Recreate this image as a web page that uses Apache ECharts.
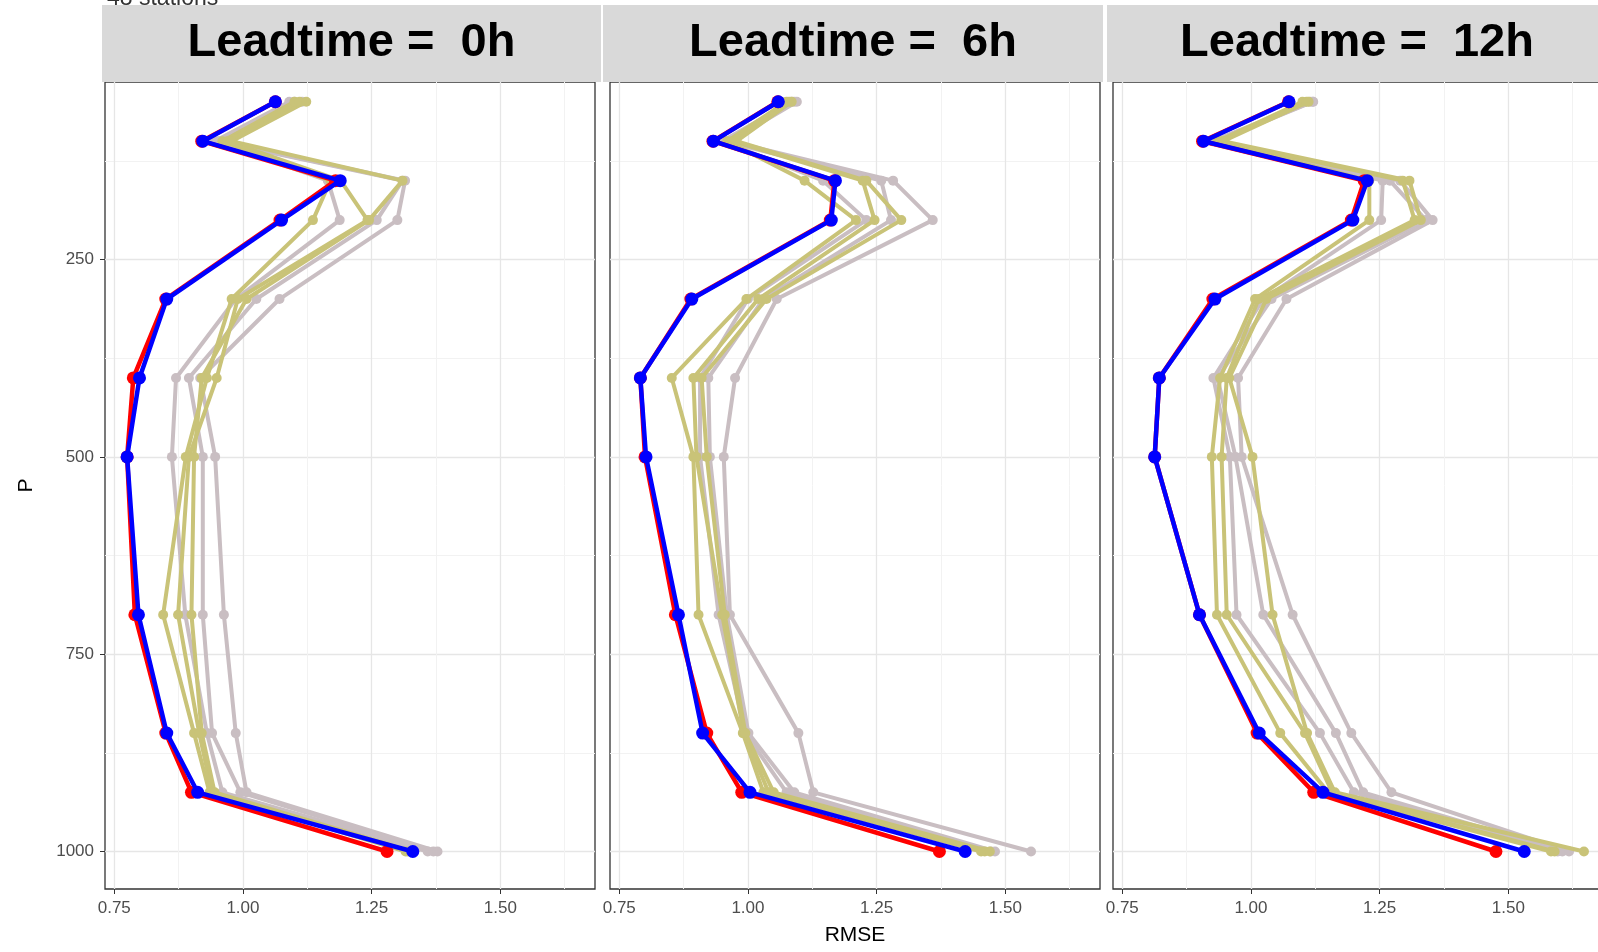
<!DOCTYPE html>
<html>
<head>
<meta charset="utf-8">
<title>RMSE profiles</title>
<script src="https://cdn.jsdelivr.net/npm/echarts@6/dist/echarts.min.js"></script>
<style>
  html, body { margin: 0; padding: 0; background: #fff; }
  #chart { width: 1598px; height: 952px; }
</style>
</head>
<body>
<div id="chart"></div>
<script>
// pressure levels (hPa)
const LEVELS = [50, 100, 150, 200, 300, 400, 500, 700, 850, 925, 1000]
const PANEL_TITLES = ['Leadtime =  0h', 'Leadtime =  6h', 'Leadtime =  12h']

const X_MAJOR = [0.75, 1.0, 1.25, 1.5]
const X_MINOR = [0.875, 1.125, 1.375, 1.625]
const Y_MAJOR = [250, 500, 750, 1000]
const Y_MINOR = [125, 375, 625, 875]

// leadtime 0h
const RED_0H = [1.063, 0.920, 1.180, 1.072, 0.850, 0.787, 0.775, 0.790, 0.850, 0.900, 1.280]
const BLUE_0H = [1.063, 0.922, 1.189, 1.075, 0.852, 0.799, 0.775, 0.797, 0.852, 0.912, 1.330]
const KHAKI_0H = [
  [1.100, 0.960, 1.170, 1.136, 0.978, 0.930, 0.889, 0.845, 0.905, 0.935, 1.316],
  [1.110, 0.970, 1.190, 1.242, 0.990, 0.949, 0.895, 0.874, 0.915, 0.940, 1.320],
  [1.123, 0.978, 1.310, 1.245, 1.007, 0.920, 0.905, 0.900, 0.920, 0.945, 1.330]
]
const GREY_0H = [
  [1.090, 0.945, 1.165, 1.188, 0.986, 0.870, 0.862, 0.888, 0.930, 0.960, 1.359],
  [1.100, 0.950, 1.310, 1.260, 1.026, 0.895, 0.922, 0.922, 0.940, 0.995, 1.370],
  [1.115, 0.955, 1.315, 1.300, 1.071, 0.917, 0.946, 0.963, 0.986, 1.007, 1.378]
]

// leadtime 6h
const RED_6H = [1.058, 0.932, 1.168, 1.160, 0.889, 0.791, 0.800, 0.859, 0.920, 0.988, 1.372]
const BLUE_6H = [1.059, 0.933, 1.170, 1.162, 0.891, 0.791, 0.802, 0.865, 0.912, 1.004, 1.422]
const KHAKI_6H = [
  [1.075, 0.960, 1.110, 1.210, 0.997, 0.852, 0.894, 0.904, 0.990, 1.030, 1.453],
  [1.080, 0.970, 1.223, 1.246, 1.020, 0.894, 0.900, 0.950, 0.992, 1.040, 1.460],
  [1.085, 0.978, 1.230, 1.298, 1.036, 0.910, 0.920, 0.955, 0.995, 1.050, 1.470]
]
const GREY_6H = [
  [1.085, 0.950, 1.146, 1.230, 1.000, 0.907, 0.907, 0.943, 0.995, 1.075, 1.472],
  [1.090, 0.955, 1.259, 1.278, 1.030, 0.923, 0.926, 0.959, 1.001, 1.090, 1.480],
  [1.095, 0.965, 1.282, 1.359, 1.056, 0.975, 0.953, 0.965, 1.098, 1.127, 1.550]
]

// leadtime 12h
const RED_12H = [1.073, 0.906, 1.220, 1.195, 0.926, 0.822, 0.813, 0.900, 1.012, 1.122, 1.476]
const BLUE_12H = [1.074, 0.908, 1.226, 1.198, 0.930, 0.822, 0.813, 0.900, 1.016, 1.140, 1.531]
const KHAKI_12H = [
  [1.100, 0.935, 1.230, 1.230, 1.008, 0.940, 0.924, 0.934, 1.057, 1.150, 1.583],
  [1.108, 0.940, 1.295, 1.318, 1.015, 0.953, 0.943, 0.953, 1.105, 1.158, 1.590],
  [1.112, 0.946, 1.308, 1.330, 1.030, 0.958, 1.003, 1.042, 1.109, 1.163, 1.647]
]
const GREY_12H = [
  [1.115, 0.925, 1.256, 1.253, 1.024, 0.927, 0.959, 0.972, 1.134, 1.200, 1.596],
  [1.120, 0.930, 1.270, 1.340, 1.040, 0.935, 0.970, 1.024, 1.165, 1.218, 1.605],
  [1.121, 0.934, 1.290, 1.353, 1.069, 0.975, 0.982, 1.081, 1.195, 1.273, 1.618]
]

const PANELS = [
  { red: RED_0H, blue: BLUE_0H, khaki: KHAKI_0H, grey: GREY_0H },
  { red: RED_6H, blue: BLUE_6H, khaki: KHAKI_6H, grey: GREY_6H },
  { red: RED_12H, blue: BLUE_12H, khaki: KHAKI_12H, grey: GREY_12H }
]

const FONT = '"Liberation Sans", Arial, sans-serif'
const GRID_LEFT = [105, 610, 1113]
const GRID_TOP = 82
const GRID_W = 490
const GRID_H = 807
const STRIPS = [[102, 499], [603, 500], [1107, 500]]

const chart = echarts.init(document.getElementById('chart'), null, { renderer: 'canvas' })

const grids = []
const xAxes = []
const yAxes = []
const series = []
const graphics = []

const toPts = vals => LEVELS.map((p, j) => [vals[j], p])

const lineSeries = (idx, vals, color, width, size, z) => ({
  type: 'line',
  xAxisIndex: idx,
  yAxisIndex: idx,
  data: toPts(vals),
  symbol: 'circle',
  symbolSize: size,
  showAllSymbol: true,
  lineStyle: { color: color, width: width },
  itemStyle: { color: color },
  z: z,
  animation: false,
  silent: true
})

PANELS.forEach((pd, i) => {
  grids.push({
    left: GRID_LEFT[i], top: GRID_TOP, width: GRID_W, height: GRID_H,
    show: true, borderColor: '#333', borderWidth: 1.3, backgroundColor: '#fff',
    outerBoundsMode: 'none', containLabel: false
  })

  // main axes: major grid, ticks, labels
  xAxes.push({
    gridIndex: i, type: 'value', min: 0.732, max: 1.684,
    name: i === 1 ? 'RMSE' : '', nameLocation: 'middle', nameGap: 36,
    nameTextStyle: { fontSize: 21, color: '#000', fontFamily: FONT },
    axisLine: { show: false },
    axisTick: { show: true, customValues: X_MAJOR, length: 5, lineStyle: { color: '#333' } },
    axisLabel: { customValues: X_MAJOR, margin: 11, fontSize: 17, color: '#4d4d4d', fontFamily: FONT,
      formatter: v => v.toFixed(2) },
    splitLine: { show: true, lineStyle: { color: '#e6e6e6', width: 1.3 } }
  })
  yAxes.push({
    gridIndex: i, type: 'value', inverse: true, min: 25, max: 1047.5,
    name: i === 0 ? 'P' : '', nameLocation: 'middle', nameGap: 68,
    nameTextStyle: { fontSize: 21, color: '#000', fontFamily: FONT },
    axisLine: { show: false },
    axisTick: { show: i === 0, customValues: Y_MAJOR, length: 5, lineStyle: { color: '#333' } },
    axisLabel: { show: i === 0, customValues: Y_MAJOR, margin: 11, fontSize: 17, color: '#4d4d4d', fontFamily: FONT,
      formatter: v => String(v) },
    splitLine: { show: true, lineStyle: { color: '#e6e6e6', width: 1.3 } }
  })

  // khaki and grey runs underneath, red and blue on top
  pd.grey.forEach(v => series.push(lineSeries(i, v, '#c9bec2', 4, 10, 2)))
  pd.khaki.forEach(v => series.push(lineSeries(i, v, '#c9c378', 4, 10, 3)))
  series.push(lineSeries(i, pd.red, '#ff0000', 4.5, 13, 4))
  series.push(lineSeries(i, pd.blue, '#0000ff', 4.5, 13, 5))
})

// secondary axes only carry the minor grid lines
PANELS.forEach((pd, i) => {
  xAxes.push({
    gridIndex: i, type: 'value', min: 0.732, max: 1.684, position: 'bottom',
    axisLine: { show: false }, axisLabel: { show: false },
    axisTick: { show: false, customValues: X_MINOR },
    splitLine: { show: true, lineStyle: { color: '#f2f2f2', width: 1 } }
  })
  yAxes.push({
    gridIndex: i, type: 'value', inverse: true, min: 25, max: 1047.5, position: 'left',
    axisLine: { show: false }, axisLabel: { show: false },
    axisTick: { show: false, customValues: Y_MINOR },
    splitLine: { show: true, lineStyle: { color: '#f2f2f2', width: 1 } }
  })
})

graphics.push({
  type: 'text', left: 107, top: -13, z: 1,
  style: { text: '48 stations', fontSize: 23, fontFamily: FONT, fill: '#333' }
})

STRIPS.forEach(([x, w], i) => {
  graphics.push({
    type: 'rect', z: 10,
    shape: { x: x, y: 5, width: w, height: 77 },
    style: { fill: '#d9d9d9' }
  })
  graphics.push({
    type: 'text', z: 11, x: x + w / 2, y: 43,
    style: {
      text: PANEL_TITLES[i], fontSize: 47, fontWeight: 'bold', fontFamily: FONT,
      fill: '#000', textAlign: 'center', textVerticalAlign: 'middle'
    }
  })
})

chart.setOption({
  animation: false,
  backgroundColor: '#fff',
  grid: grids,
  xAxis: xAxes,
  yAxis: yAxes,
  series: series,
  graphic: graphics
})
</script>
</body>
</html>
